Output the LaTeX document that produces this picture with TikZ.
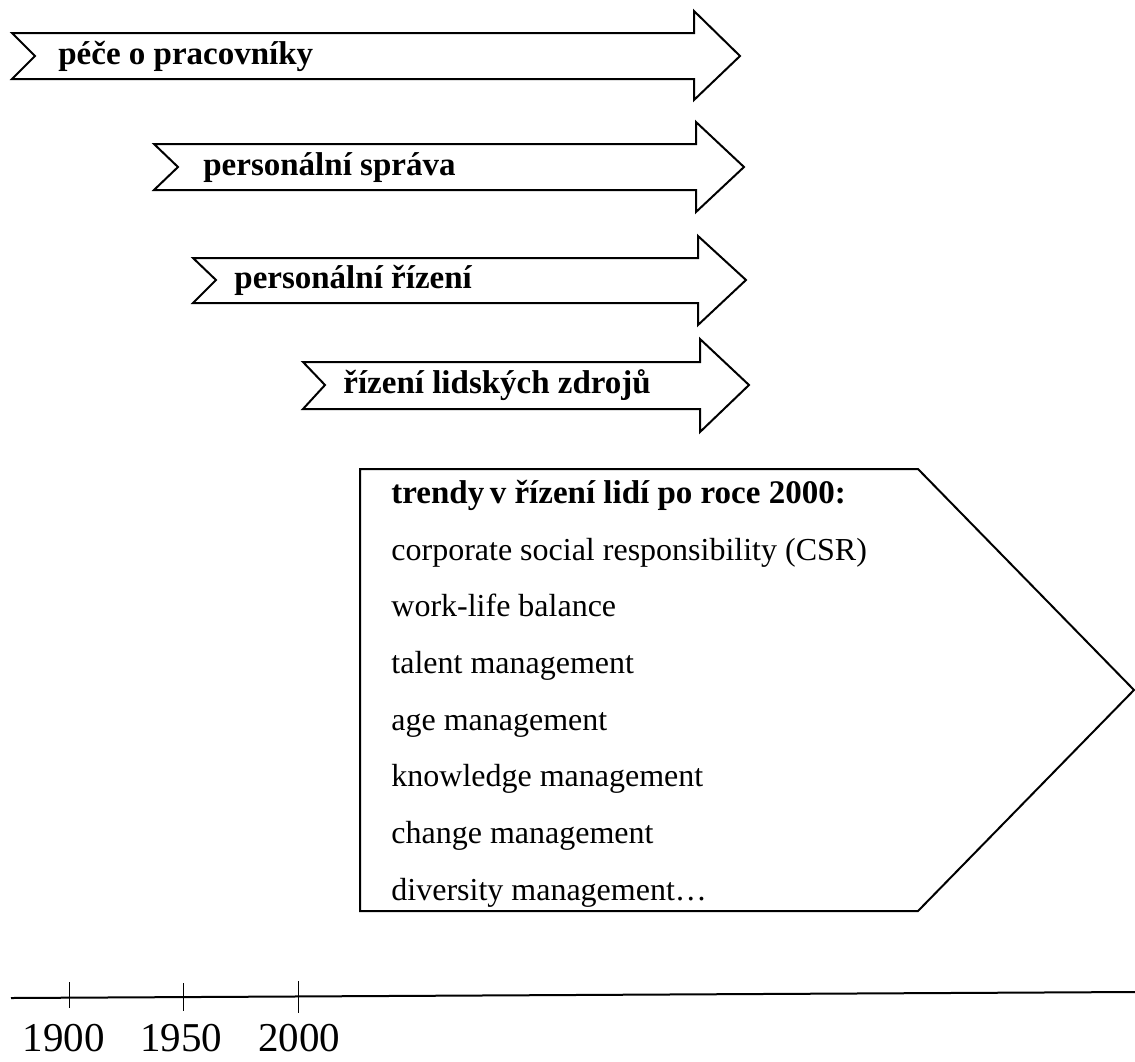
\documentclass[tikz,border=0pt]{standalone}
\usepackage{fontspec}
\setmainfont{Liberation Serif}
\usepackage{tikz}
\usetikzlibrary{positioning}

\begin{document}
\begin{tikzpicture}[
  x=0.5pt, y=-0.5pt,
  outline/.style={draw, line width=1pt, fill=white},
  lbl/.style={anchor=base west, inner sep=0pt, font=\fontsize{16.5}{18}\selectfont\bfseries},
  item/.style={anchor=base west, inner sep=0pt, font=\fontsize{16}{18}\selectfont},
  year/.style={anchor=base, inner sep=0pt, font=\fontsize{20.5}{24}\selectfont},
  axtick/.style={line width=0.5pt},
]
\useasboundingbox (0,0) rectangle (1135,1061);

% Development stages
\draw[outline] (12,33) -- (694,33) -- (694,11) -- (740,56) -- (694,100)
  -- (694,79) -- (12,79) -- (35,56) -- cycle;
\node[lbl] (pece) at (58,64) {péče o pracovníky};

\draw[outline] (154,144) -- (696,144) -- (696,122) -- (744,167) -- (696,212)
  -- (696,190) -- (154,190) -- (178,167) -- cycle;
\node[lbl] (sprava) at (203,175) {personální správa};

\draw[outline] (193,258) -- (698,258) -- (698,236) -- (746,280) -- (698,325)
  -- (698,303) -- (193,303) -- (216,280) -- cycle;
\node[lbl] (rizeni) at (234,288) {personální řízení};

\draw[outline] (303,362) -- (700,362) -- (700,339) -- (749,385) -- (700,432)
  -- (700,409) -- (303,409) -- (325,385) -- cycle;
\node[lbl] (lz) at (343,393) {řízení lidských zdrojů};

% Trends after 2000
\draw[outline] (360,469) -- (918,469) -- (1134,690) -- (918,911)
  -- (360,911) -- cycle;
\node[lbl] (trendy) at (391,503) {trendy\,v řízení lidí po roce 2000:};
\node[item] (csr) at (391,560) {corporate social responsibility (CSR)};
\node[item] (wlb) at (391,616) {work-life balance};
\node[item] (talent) at (391,673) {talent management};
\node[item] (age) at (391,730) {age management};
\node[item] (know) at (391,786) {knowledge management};
\node[item] (change) at (391,843) {change management};
\node[item] (div) at (391,900) {diversity management…};

% Time axis
\draw[line width=1pt] (11,998) -- (1135,992);
\draw[axtick] (69,982) -- (69,1008);
\draw[axtick] (183,983) -- (183,1011);
\draw[axtick] (298,981) -- (298,1013);
\node[year] (y1900) at (64,1051) {1900};
\node[year] (y1950) at (181,1051) {1950};
\node[year] (y2000) at (299,1051) {2000};

\end{tikzpicture}
\end{document}
